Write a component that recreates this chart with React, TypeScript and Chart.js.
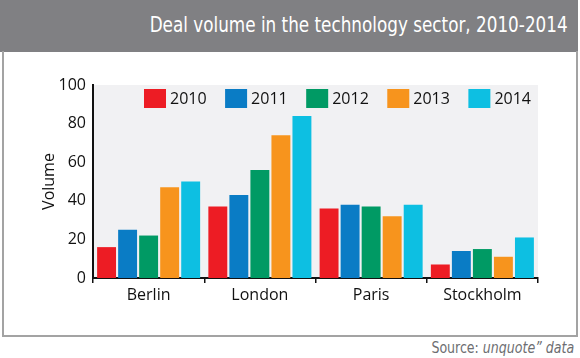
import React, { useEffect, useRef } from "react";
import { Chart, registerables } from "chart.js";

Chart.register(...registerables);

const categories = ["Berlin", "London", "Paris", "Stockholm"];
const seriesLabels = ["2010", "2011", "2012", "2013", "2014"];
const values2010 = [16, 37, 36, 7];
const values2011 = [25, 43, 38, 14];
const values2012 = [22, 56, 37, 15];
const values2013 = [47, 74, 32, 11];
const values2014 = [50, 84, 38, 21];
const yTicks = [0, 20, 40, 60, 80, 100];
const seriesColors = ["#ed1c24", "#0a7cc5", "#009a64", "#f7941d", "#0dbfe2"];

const TITLE = "Deal volume in the technology sector, 2010-2014";
const Y_TITLE = "Volume";

const tickFont = { family: "'Open Sans', 'Noto Sans', sans-serif", size: 16 };

const plotBg = {
  id: "plotBg",
  beforeDraw(chart: any) {
    const { ctx, chartArea: a } = chart;
    ctx.save();
    ctx.fillStyle = "#f1f1f3";
    ctx.fillRect(a.left, a.top, a.right - a.left, a.bottom - a.top);
    ctx.restore();
  },
};

const innerLegend = {
  id: "innerLegend",
  afterDatasetsDraw(chart: any) {
    const { ctx, chartArea: a } = chart;
    ctx.save();
    ctx.font = `16px ${tickFont.family}`;
    ctx.textBaseline = "middle";
    ctx.textAlign = "left";
    let x = a.left + 51;
    const boxW = 22;
    const boxH = 19;
    const y = a.top + 4;
    chart.data.datasets.forEach((ds: any) => {
      ctx.fillStyle = ds.backgroundColor;
      ctx.fillRect(x, y, boxW, boxH);
      ctx.fillStyle = "#111";
      const tx = x + boxW + 4;
      ctx.fillText(ds.label, tx, y + boxH / 2 + 1);
      const w = ctx.measureText(ds.label).width;
      x = tx + w + 18.5;
    });
    ctx.restore();
  },
};

export default function App() {
  const ref = useRef<HTMLCanvasElement | null>(null);

  useEffect(() => {
    if (!ref.current) return;
    const series = [values2010, values2011, values2012, values2013, values2014];
    const chart = new Chart(ref.current, {
      type: "bar",
      data: {
        labels: categories,
        datasets: series.map((vals, i) => ({
          label: seriesLabels[i],
          data: vals,
          backgroundColor: seriesColors[i],
          borderWidth: 0,
          categoryPercentage: 0.945,
          barPercentage: 0.9,
        })),
      },
      options: {
        animation: false,
        responsive: false,
        maintainAspectRatio: false,
        layout: { padding: { top: 33, right: 42, left: 0, bottom: 0 } },
        plugins: {
          legend: { display: false },
          tooltip: { enabled: false },
          title: { display: false },
        },
        scales: {
          x: {
            grid: {
              display: true,
              drawOnChartArea: false,
              drawTicks: true,
              tickLength: 5,
              color: "#111",
              lineWidth: 1.5,
              offset: true,
            },
            border: { display: true, color: "#111", width: 2 },
            ticks: { color: "#111", font: tickFont, padding: 3 },
            afterFit: (s: any) => {
              s.height = 58;
            },
          },
          y: {
            min: 0,
            max: 100,
            afterBuildTicks: (s: any) => {
              s.ticks = yTicks.map((v) => ({ value: v }));
            },
            grid: { display: false, drawTicks: false },
            border: { display: true, color: "#111", width: 2 },
            ticks: { color: "#111", font: tickFont, padding: 7 },
            title: {
              display: true,
              text: Y_TITLE,
              color: "#111",
              font: tickFont,
              padding: { top: 40, bottom: 0 },
            },
            afterFit: (s: any) => {
              s.width = 93;
            },
          },
        },
      },
      plugins: [plotBg, innerLegend],
    });
    return () => chart.destroy();
  }, []);

  const condensed =
    "'Liberation Sans Narrow', 'DejaVu Sans Condensed', 'Roboto Condensed', sans-serif";

  return (
    <div
      style={{
        position: "fixed",
        left: 0,
        top: 0,
        width: 580,
        height: 358,
        background: "#fff",
        overflow: "hidden",
      }}
    >
      <div
        style={{
          position: "absolute",
          left: 0,
          top: 0,
          width: 578,
          height: 52,
          background: "#808083",
        }}
      />
      <div
        style={{
          position: "absolute",
          right: 12,
          top: 0,
          height: 52,
          color: "#fff",
          fontFamily: condensed,
          fontSize: 21,
          lineHeight: "50px",
          whiteSpace: "nowrap",
          transform: "scaleX(0.89)",
          transformOrigin: "right center",
        }}
      >
        {TITLE}
      </div>
      <div
        style={{
          position: "absolute",
          left: 2,
          top: 51,
          width: 576,
          height: 286,
          border: "2px solid #a3a3a3",
          borderTop: "none",
          boxSizing: "border-box",
        }}
      />
      <canvas
        ref={ref}
        width={580}
        height={284}
        style={{ position: "absolute", left: 0, top: 52, width: 580, height: 284 }}
      />
      <div
        style={{
          position: "absolute",
          right: 6,
          top: 338,
          fontFamily: condensed,
          fontSize: 16,
          color: "#6d6e71",
          whiteSpace: "nowrap",
          transform: "scaleX(0.875)",
          transformOrigin: "right center",
        }}
      >
        Source: <i>unquote” data</i>
      </div>
    </div>
  );
}
